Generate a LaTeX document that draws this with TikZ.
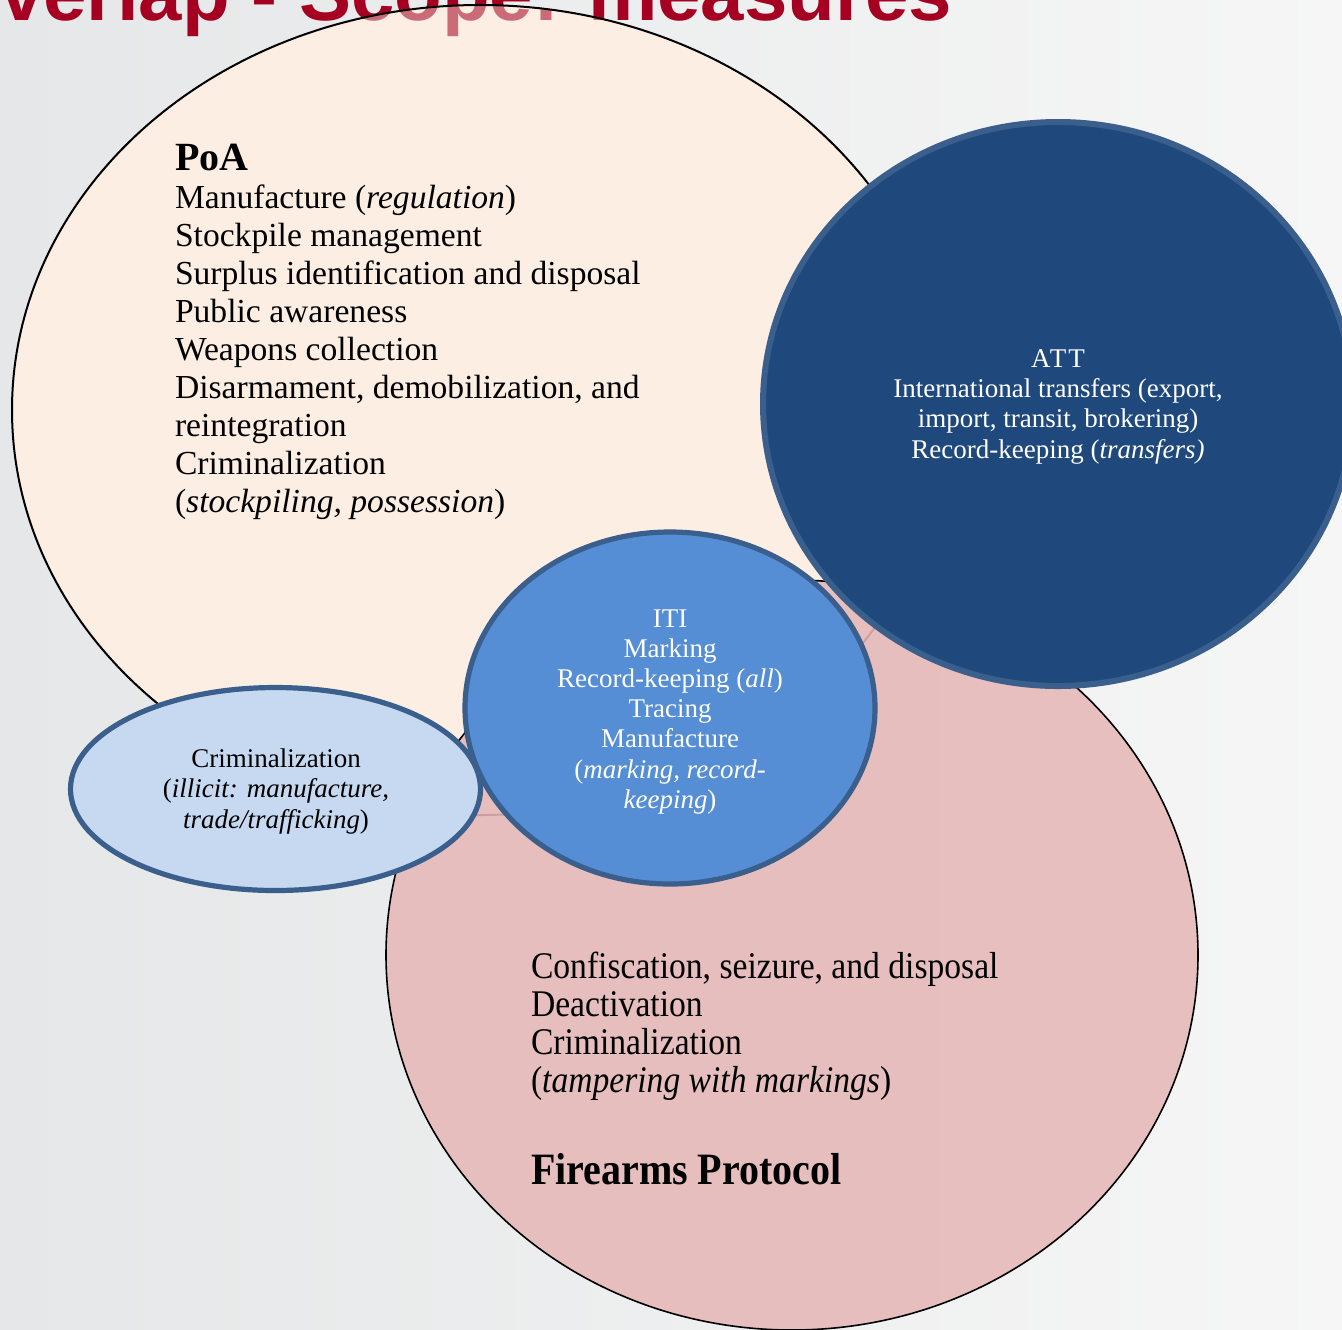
\documentclass[tikz,border=0pt]{standalone}
\usepackage{fontspec}
\setmainfont{Liberation Serif}
\newfontfamily\titlefont{Liberation Sans}
\newfontfamily\bodyserif{Liberation Serif}
\usetikzlibrary{shapes.geometric}
\definecolor{bgL}{HTML}{E5E7E8}
\definecolor{bgR}{HTML}{F6F6F6}
\definecolor{poafill}{HTML}{FCEEE3}
\definecolor{firefill}{HTML}{E5B8B7}
\definecolor{attfill}{HTML}{1F497D}
\definecolor{blueborder}{HTML}{3A5F8C}
\definecolor{itifill}{HTML}{558ED5}
\definecolor{crimfill}{HTML}{C6D9F1}
\definecolor{titlered}{HTML}{A50021}
\newcommand{\leftlines}[1]{\begin{tabular}[t]{@{}l@{}}#1\end{tabular}}
\newcommand{\centerlines}[1]{\begin{tabular}[t]{@{}c@{}}#1\end{tabular}}
\begin{document}
\begin{tikzpicture}[x=0.5pt,y=-0.5pt,
  oval/.style={ellipse, inner sep=0pt, outer sep=0pt},
  bluering/.style={draw=blueborder, line width=2.6pt},
  txt/.style={inner sep=0pt, outer sep=0pt}
]
\useasboundingbox (0,0) rectangle (1342,1329);
\shade[left color=bgL, right color=bgR] (0,0) rectangle (1342,1329);

% PoA ellipse (under the title), title, then translucent veil + outline
\node[oval, fill=poafill, minimum width=468pt, minimum height=405pt] (poa) at (480,410) {};
\node[txt, anchor=base west, text=titlered] (title) at (0,20)
  {\titlefont\bfseries\fontsize{39}{40}\selectfont verlap - Scope: measures};
\fill[poafill, fill opacity=0.45] (poa.center) ellipse [x radius=234pt, y radius=202.5pt];
\draw[line width=1pt] (poa.center) ellipse [x radius=234pt, y radius=202.5pt];

% Firearms Protocol
\node[oval, fill=firefill, fill opacity=0.88, draw=black, line width=0.8pt,
      minimum width=406pt, minimum height=375pt] (fp) at (792,955) {};

% ITI
\node[oval, fill=itifill, bluering, minimum width=205pt, minimum height=176pt] (iti) at (670,708) {};
% ATT
\node[oval, fill=attfill, bluering, line width=3pt, minimum width=295pt, minimum height=282pt] (att) at (1058,404) {};
% Criminalization (illicit)
\node[oval, fill=crimfill, bluering, minimum width=205pt, minimum height=101.5pt] (crim) at (275.5,789) {};

% Texts
\node[txt, anchor=base west] (poahead) at (175,170)
  {\bodyserif\bfseries\fontsize{20}{22}\selectfont PoA};
\node[txt, anchor=base west] (poabody) at (175,208) {\bodyserif\fontsize{16.8}{19}\selectfont\leftlines{%
Manufacture (\textit{regulation})\\
Stockpile management\\
Surplus identification and disposal\\
Public awareness\\
Weapons collection\\
Disarmament, demobilization, and\\
reintegration\\
Criminalization\\
(\textit{stockpiling, possession})}};

\node[txt, anchor=base, text=white] (atttext) at (1058,367) {\bodyserif\fontsize{13.5}{15.2}\selectfont\centerlines{%
{\addfontfeature{LetterSpace=8}ATT}\\
International transfers (export,\\
import, transit, brokering)\\
Record-keeping (\textit{transfers)}}};

\node[txt, anchor=base, text=white] (ititext) at (670,627) {\bodyserif\fontsize{13.5}{15.1}\selectfont\centerlines{%
ITI\\
Marking\\
Record-keeping (\textit{all})\\
Tracing\\
Manufacture\\
(\textit{marking, record-}\\
\textit{keeping})}};

\node[txt, anchor=base] (crimtext) at (276,767) {\bodyserif\fontsize{13.5}{15.25}\selectfont\centerlines{%
Criminalization\\
(\textit{illicit: manufacture,}\\
\textit{trade/trafficking})}};

\node[txt, anchor=base west] (fptext) at (531,978) {\scalebox{1}[1.12]{\bodyserif\fontsize{16.8}{17}\selectfont\leftlines{%
Confiscation, seizure, and disposal\\
Deactivation\\
Criminalization\\
(\textit{tampering with markings})}}};
\node[txt, anchor=base west] (fphead) at (531,1184) {\scalebox{1}[1.12]{\bodyserif\fontsize{20}{22}\selectfont\bfseries Firearms Protocol}};
\end{tikzpicture}
\end{document}
